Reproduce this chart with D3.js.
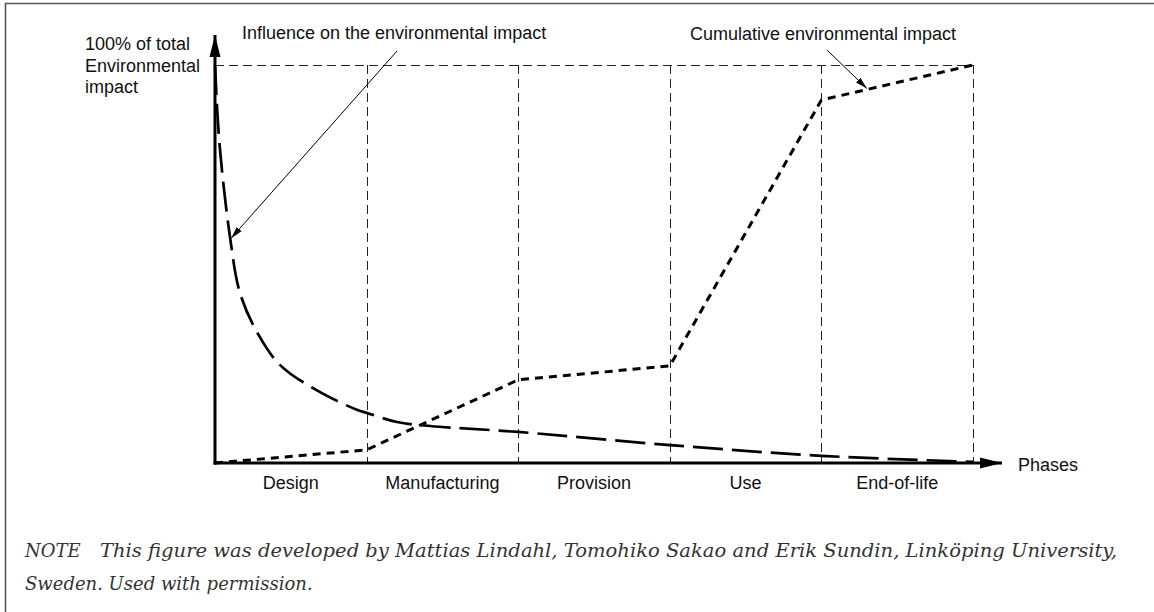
<!DOCTYPE html>
<html>
<head>
<meta charset="utf-8">
<script src="https://cdn.jsdelivr.net/npm/d3@7"></script>
<style>
  html, body { margin: 0; padding: 0; background: #fff; }
  svg { display: block; }
  .lbl { font-family: "Liberation Sans", Arial, sans-serif; font-size: 18px; fill: #111; }
  .note { font-family: "DejaVu Serif", "Liberation Serif", serif; font-style: italic; font-size: 18px; fill: #333; }
</style>
</head>
<body>
<svg id="chart" width="1154" height="612"></svg>
<script>
// ---- data ----
const phases = ["Design", "Manufacturing", "Provision", "Use", "End-of-life"];
// phase position (0..5) vs % of total environmental impact
const influenceX = [0, 0.03, 0.1, 0.165, 0.28, 0.43, 0.67, 0.94, 1, 1.2, 1.42, 2, 3, 4, 5];
const influenceY = [100, 80, 56.5, 42.7, 32.7, 24.6, 18.3, 13.3, 12.6, 10.3, 9.3, 7.8, 4.5, 1.8, 0.3];
const cumulativeX = [0, 1, 2, 3, 4, 5];
const cumulativeY = [0, 3.3, 20.9, 24.4, 91.2, 100];
const yLabelLines = ["100% of total", "Environmental", "impact"];
const influenceLabel = "Influence on the environmental impact";
const cumulativeLabel = "Cumulative environmental impact";
const xAxisLabel = "Phases";
const noteHead = "NOTE";
const noteLine1 = "This figure was developed by Mattias Lindahl, Tomohiko Sakao and Erik Sundin, Linköping University,";
const noteLine2 = "Sweden. Used with permission.";

// ---- layout ----
const svg = d3.select("#chart");
const x = d3.scaleLinear().domain([0, phases.length]).range([215, 973]);
const y = d3.scaleLinear().domain([0, 100]).range([463, 65]);

// frame
svg.append("path")
  .attr("d", "M5.5,612 L5.5,3.5 L1154,3.5")
  .attr("fill", "none").attr("stroke", "#555").attr("stroke-width", 1.6);

// markers
const defs = svg.append("defs");
defs.append("marker").attr("id", "bigArrow")
  .attr("viewBox", "0 0 22 12").attr("refX", 22).attr("refY", 6)
  .attr("markerWidth", 22).attr("markerHeight", 12)
  .attr("markerUnits", "userSpaceOnUse").attr("orient", "auto")
  .append("path").attr("d", "M0,0.5 L22,6 L0,11.5 Z").attr("fill", "#000");
defs.append("marker").attr("id", "smallArrow")
  .attr("viewBox", "0 0 12 8").attr("refX", 12).attr("refY", 4)
  .attr("markerWidth", 12).attr("markerHeight", 8)
  .attr("markerUnits", "userSpaceOnUse").attr("orient", "auto")
  .append("path").attr("d", "M0,0.8 L12,4 L0,7.2 Z").attr("fill", "#000");

// guide lines (dashed)
const grid = svg.append("g").attr("stroke", "#222").attr("stroke-width", 1)
  .attr("stroke-dasharray", "9,5").attr("fill", "none");
grid.append("line")
  .attr("x1", x(0)).attr("x2", x(phases.length))
  .attr("y1", y(100) + 0.5).attr("y2", y(100) + 0.5);
d3.range(1, phases.length + 1).forEach(i => {
  grid.append("line")
    .attr("x1", Math.round(x(i)) + 0.5).attr("x2", Math.round(x(i)) + 0.5)
    .attr("y1", y(100)).attr("y2", y(0));
});

// axes
svg.append("line")
  .attr("x1", x(0)).attr("x2", x(0))
  .attr("y1", y(0) + 1.5).attr("y2", 35)
  .attr("stroke", "#000").attr("stroke-width", 3)
  .attr("marker-end", "url(#bigArrow)");
svg.append("line")
  .attr("x1", x(0) - 1.5).attr("x2", 1002)
  .attr("y1", y(0)).attr("y2", y(0))
  .attr("stroke", "#000").attr("stroke-width", 3)
  .attr("marker-end", "url(#bigArrow)");

// phase labels
svg.append("g").selectAll("text").data(phases).join("text")
  .attr("class", "lbl")
  .attr("x", (d, i) => x(i + 0.5))
  .attr("y", 489)
  .attr("text-anchor", "middle")
  .text(d => d);

svg.append("text").attr("class", "lbl").attr("x", 1018).attr("y", 471).text(xAxisLabel);

// y label
svg.append("g").selectAll("text").data(yLabelLines).join("text")
  .attr("class", "lbl")
  .attr("x", 85)
  .attr("y", (d, i) => 50 + i * 21.5)
  .text(d => d);

// series
const influenceData = influenceX.map((v, i) => [v, influenceY[i]]);
const cumulativeData = cumulativeX.map((v, i) => [v, cumulativeY[i]]);

svg.append("path")
  .datum(influenceData)
  .attr("fill", "none").attr("stroke", "#000").attr("stroke-width", 2.7)
  .attr("stroke-dasharray", "30,9")
  .attr("d", d3.line().x(d => x(d[0])).y(d => y(d[1])).curve(d3.curveCatmullRom.alpha(0.5)));

svg.append("path")
  .datum(cumulativeData)
  .attr("fill", "none").attr("stroke", "#000").attr("stroke-width", 3)
  .attr("stroke-dasharray", "8,6")
  .attr("d", d3.line().x(d => x(d[0])).y(d => y(d[1])));

// annotations
svg.append("text").attr("class", "lbl").attr("x", 242).attr("y", 39).text(influenceLabel);
svg.append("line")
  .attr("x1", 397).attr("y1", 51)
  .attr("x2", x(influenceX[2]) + 1).attr("y2", y(influenceY[2]))
  .attr("stroke", "#000").attr("stroke-width", 1)
  .attr("marker-end", "url(#smallArrow)");

svg.append("text").attr("class", "lbl").attr("x", 690).attr("y", 39.5).text(cumulativeLabel);
const ct = 4.3;
const cv = cumulativeY[4] + (cumulativeY[5] - cumulativeY[4]) * (ct - 4);
svg.append("line")
  .attr("x1", 827).attr("y1", 50)
  .attr("x2", x(ct)).attr("y2", y(cv) - 1)
  .attr("stroke", "#000").attr("stroke-width", 1)
  .attr("marker-end", "url(#smallArrow)");

// note
svg.append("text").attr("class", "note").attr("x", 25).attr("y", 557).text(noteHead);
const l1 = svg.append("text").attr("class", "note").attr("x", 100).attr("y", 557).text(noteLine1);
svg.append("text").attr("class", "note").attr("x", 25).attr("y", 590).text(noteLine2);
l1.attr("textLength", 1017).attr("lengthAdjust", "spacingAndGlyphs");
</script>
</body>
</html>
